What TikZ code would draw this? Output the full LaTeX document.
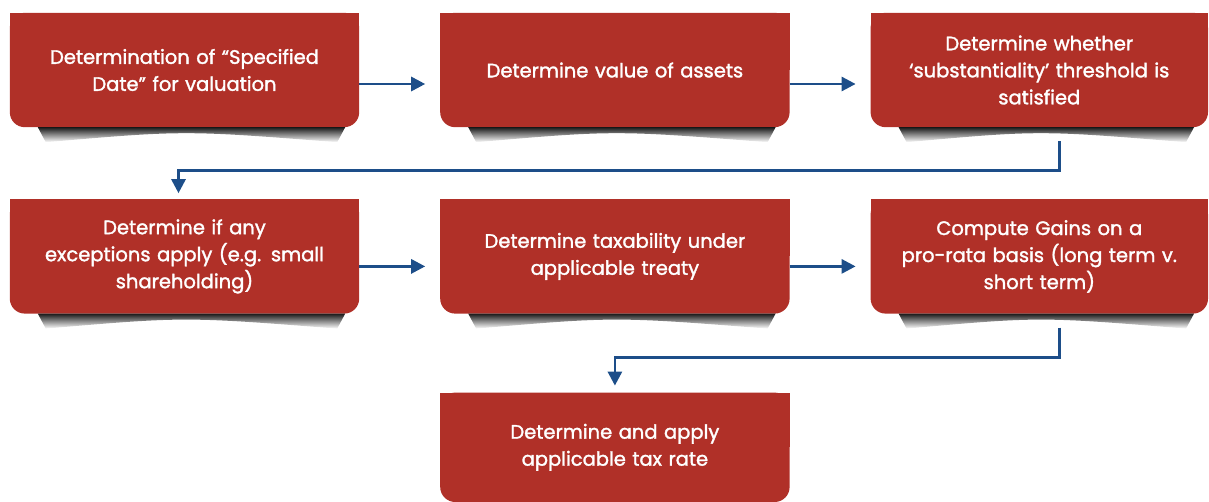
\documentclass[tikz,border=0pt]{standalone}
\usepackage{fontspec}
\setmainfont{Poppins}
\newfontfamily\stepfont{Poppins}[FakeBold=1.6]
\usetikzlibrary{arrows.meta, positioning, calc, backgrounds}
\definecolor{boxred}{HTML}{B03028}
\definecolor{flowblue}{HTML}{1D4E89}

\tikzset{
  stepbox/.style={text=white, minimum width=349pt, minimum height=114pt,
    text width=300pt, align=center, inner sep=0pt,
    font=\stepfont\fontsize{19.5}{27}\selectfont},
  flow/.style={draw=flowblue, line width=2.8pt, -{Triangle[length=14pt,width=14pt]}},
}

\begin{document}
\begin{tikzpicture}[x=1pt, y=-1pt]
    \useasboundingbox (0,0) rectangle (1209,502);

    % first row
    \node[stepbox] (date) at (184.5,70) {Determination of “Specified\\Date” for valuation};
    \node[stepbox, right=81pt of date] (value) {Determine value of assets};
    \node[stepbox, right=81pt of value, minimum width=337pt] (subst) {Determine whether\\‘substantiality’ threshold is\\satisfied};

    % second row
    \node[stepbox, below=72pt of date] (except) {Determine if any\\exceptions apply (e.g. small\\shareholding)};
    \node[stepbox, below=72pt of value] (treaty) {Determine taxability under\\applicable treaty};
    \node[stepbox, below=72pt of subst, minimum width=337pt] (gains) {Compute Gains on a\\pro-rata basis (long term v.\\short term)};

    % last step
    \node[stepbox, below=79pt of treaty, minimum height=109pt] (rate) {Determine and apply\\applicable tax rate};

    % boxes with square top corners, and their shadows
    \begin{scope}[on background layer]
    \foreach \n in {date, value, subst, except, treaty, gains, rate} {
        \fill[boxred, rounded corners=15pt] (\n.north west) rectangle (\n.south east);
        \fill[boxred] (\n.north west) rectangle (\n.east);
        \shade[top color=black!90, bottom color=white]
            ($(\n.south west)+(28,0)$) -- ($(\n.south east)+(-14,0)$)
            -- ($(\n.south east)+(-22,15)$)
            .. controls ($(\n.south)+(0,3)$) .. ($(\n.south west)+(36,15)$) -- cycle;
    }
    \end{scope}

    % connectors
    \draw[flow, shorten >=15pt] ([yshift=-14pt]date.east) -- ([yshift=-14pt]value.west);
    \draw[flow, shorten >=15pt] ([yshift=-14pt]value.east) -- ([yshift=-14pt]subst.west);
    \draw[flow, shorten >=6pt] ([xshift=20pt,yshift=-14pt]subst.south) -- ++(0,29) -| ([xshift=-6pt]except.north);
    \draw[flow, shorten >=15pt] ([yshift=-10pt]except.east) -- ([yshift=-10pt]treaty.west);
    \draw[flow, shorten >=15pt] ([yshift=-10pt]treaty.east) -- ([yshift=-10pt]gains.west);
    \draw[flow, shorten >=7pt] ([xshift=20pt,yshift=-14pt]gains.south) -- ++(0,30) -| (rate.north);
\end{tikzpicture}
\end{document}
